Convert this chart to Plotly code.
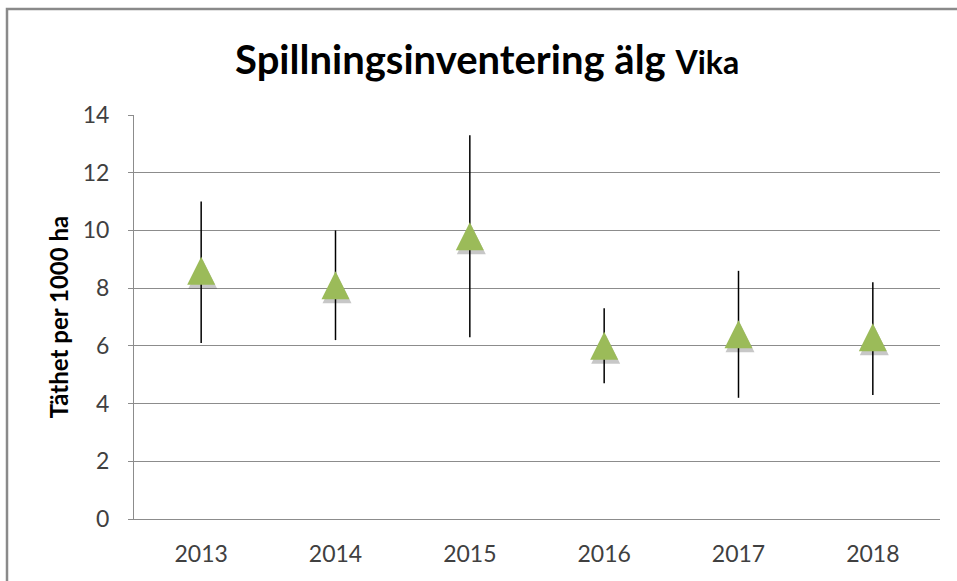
import plotly.graph_objects as go

years = ["2013", "2014", "2015", "2016", "2017", "2018"]
density = [8.6, 8.1, 9.8, 6.0, 6.4, 6.3]
upper = [11.0, 10.0, 13.3, 7.3, 8.6, 8.2]
lower = [6.1, 6.2, 6.3, 4.7, 4.2, 4.3]
y_ticks = [0, 2, 4, 6, 8, 10, 12, 14]

err_plus = [u - d for u, d in zip(upper, density)]
err_minus = [d - l for d, l in zip(density, lower)]

FONT = "Lato, Calibri, Carlito, sans-serif"
GREEN = "#9BBB59"
GRID = "#8c8c8c"

# plot-area geometry (pixels) used for style offsets only
W, H = 957, 581
ML, MR, MT, MB = 134, 17, 115, 62
plot_h = H - MT - MB
plot_w = W - ML - MR
ymax = 14
px_per_unit = plot_h / ymax
msize = 28
lift = (msize / 2) / px_per_unit          # centre the arrow-shaped triangle on its value
shadow_drop = 3 / px_per_unit
shadow_shift = 1.5 * 6 / plot_w

fig = go.Figure()

# error bars (whiskers)
fig.add_trace(go.Scatter(
    x=years, y=density, mode="markers",
    marker=dict(size=1, color="rgba(0,0,0,0)"),
    error_y=dict(type="data", symmetric=False, array=err_plus, arrayminus=err_minus,
                 color="black", thickness=1.5, width=0),
    hoverinfo="skip", showlegend=False,
))

# soft shadow under the markers
fig.add_trace(go.Scatter(
    x=years, y=density, mode="markers", xaxis="x2", yaxis="y2",
    marker=dict(symbol="arrow-up", size=msize + 1, color="rgba(0,0,0,0.22)",
                line=dict(width=0)),
    hoverinfo="skip", showlegend=False,
))

# triangle markers
fig.add_trace(go.Scatter(
    x=years, y=density, mode="markers", xaxis="x3", yaxis="y3",
    marker=dict(symbol="arrow-up", size=msize, color=GREEN, line=dict(width=0)),
    showlegend=False, name="Täthet",
))

fig.update_layout(
    width=W, height=H,
    margin=dict(l=ML, r=MR, t=MT, b=MB),
    paper_bgcolor="white", plot_bgcolor="white",
    font=dict(family=FONT, color="#404040"),
    title=dict(
        text="Spillningsinventering älg <span style='font-size:32px'>Vika</span>",
        font=dict(family=FONT, size=40, color="black", weight="bold"),
        x=0.509, xanchor="center", y=0.897, yanchor="middle",
    ),
    xaxis=dict(
        type="category", range=[-0.5, 5.5], categoryorder="array", categoryarray=years,
        showgrid=False, showline=True, linecolor=GRID, linewidth=1,
        ticks="", tickfont=dict(size=23, color="#404040"), ticklabelstandoff=14,
        zeroline=False, fixedrange=True,
    ),
    xaxis2=dict(
        type="category", overlaying="x", range=[-0.5 - shadow_shift, 5.5 - shadow_shift],
        categoryorder="array", categoryarray=years, visible=False, fixedrange=True,
    ),
    xaxis3=dict(
        type="category", overlaying="x", range=[-0.5, 5.5],
        categoryorder="array", categoryarray=years, visible=False, fixedrange=True,
    ),
    yaxis=dict(
        range=[0, ymax], tickvals=y_ticks, showgrid=True, gridcolor=GRID, gridwidth=1,
        showline=True, linecolor=GRID, linewidth=1, ticks="outside", ticklen=5,
        tickcolor=GRID, tickfont=dict(size=23, color="#404040"), ticklabelstandoff=14,
        zeroline=False, fixedrange=True,
        title=dict(text="Täthet per 1000 ha", standoff=7,
                   font=dict(family=FONT, size=24, color="black", weight="bold")),
    ),
    yaxis2=dict(overlaying="y", range=[shadow_drop - lift, ymax + shadow_drop - lift],
                visible=False, fixedrange=True),
    yaxis3=dict(overlaying="y", range=[-lift, ymax - lift], visible=False, fixedrange=True),
    shapes=[dict(
        type="rect", xref="paper", yref="paper", layer="below",
        x0=(7 - ML) / plot_w, x1=1.2, y0=-0.5, y1=(H - MB - 9) / plot_h,
        line=dict(color="#8a8a8a", width=2.5), fillcolor="rgba(0,0,0,0)",
    )],
)

fig.write_html("out.html", config={"displayModeBar": False},
               post_script="document.body.style.margin='0px';")
